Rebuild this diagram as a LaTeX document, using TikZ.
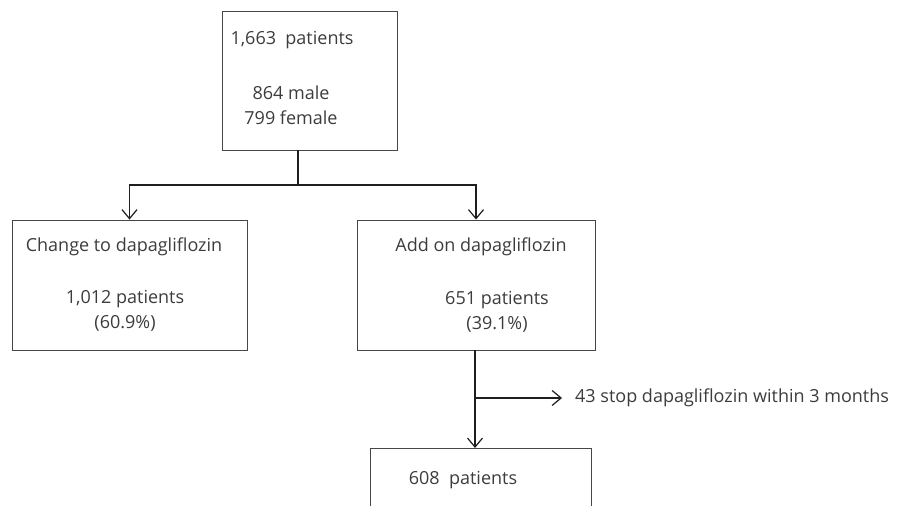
\documentclass[tikz,border=0pt]{standalone}
\usepackage{fontspec}
\setmainfont{Open Sans}
\usepackage{tikz}
\usetikzlibrary{arrows.meta, positioning}
\definecolor{boxline}{RGB}{70,70,70}
\definecolor{flowline}{RGB}{30,30,30}
\definecolor{labelgray}{RGB}{60,60,60}
\tikzset{
  flowbox/.style={
    draw=boxline, line width=0.9pt, inner sep=0pt
  },
  boxtext/.style={
    font=\fontsize{18}{25}\selectfont\color{labelgray},
    align=center, inner sep=0pt
  },
  flowarrow/.style={
    -{Straight Barb[length=9pt,width=15pt,line width=1.2pt]},
    draw=flowline, line width=1.3pt
  },
  flowline/.style={
    draw=flowline, line width=1.3pt
  },
}
\begin{document}
\begin{tikzpicture}[x=1pt, y=-1pt]
    \useasboundingbox (0,0) rectangle (898,506);

    %% Boxes
    \node[flowbox, minimum width=175pt, minimum height=139pt] (total) at (309.5,80.5) {};
    \node[flowbox, minimum width=235pt, minimum height=130pt] (change) at (129.5,285) {};
    \node[flowbox, minimum width=238pt, minimum height=130pt] (addon) at (476,285) {};
    \node[flowbox, minimum width=221pt, minimum height=90pt, anchor=north] (remain) at (480.5,448) {};

    %% Texts
    \node[boxtext] (totalT) at (292,40) {1,663\ \ patients};
    \node[boxtext] (totalS) at (291,105) {864 male\\799 female};
    \node[boxtext] (changeT) at (124,247) {Change to dapagliflozin};
    \node[boxtext] (changeS) at (125,311) {1,012 patients\\(60.9\%)};
    \node[boxtext] (addonT) at (481,247) {Add on dapagliflozin};
    \node[boxtext] (addonS) at (497,312) {651 patients\\(39.1\%)};
    \node[boxtext] (remainT) at (463,480) {608\ \ patients};

    %% Split
    \coordinate (split) at (298,185);
    \draw[flowline] (total.south -| split) -- (split);
    \draw[flowarrow] (split) -| (change.north);
    \draw[flowarrow] (split) -| (addon.north);

    %% Drop-out
    \coordinate (drop) at (475,398);
    \node[boxtext, anchor=west] (stop) at (575,398) {43 stop dapagliflozin within 3 months};
    \draw[flowline] (addon.south -| drop) -- (drop);
    \draw[flowarrow, shorten >=13pt] (drop) -- (stop.west);
    \draw[flowarrow] (drop) -- (drop |- remain.north);

  \end{tikzpicture}
\end{document}
